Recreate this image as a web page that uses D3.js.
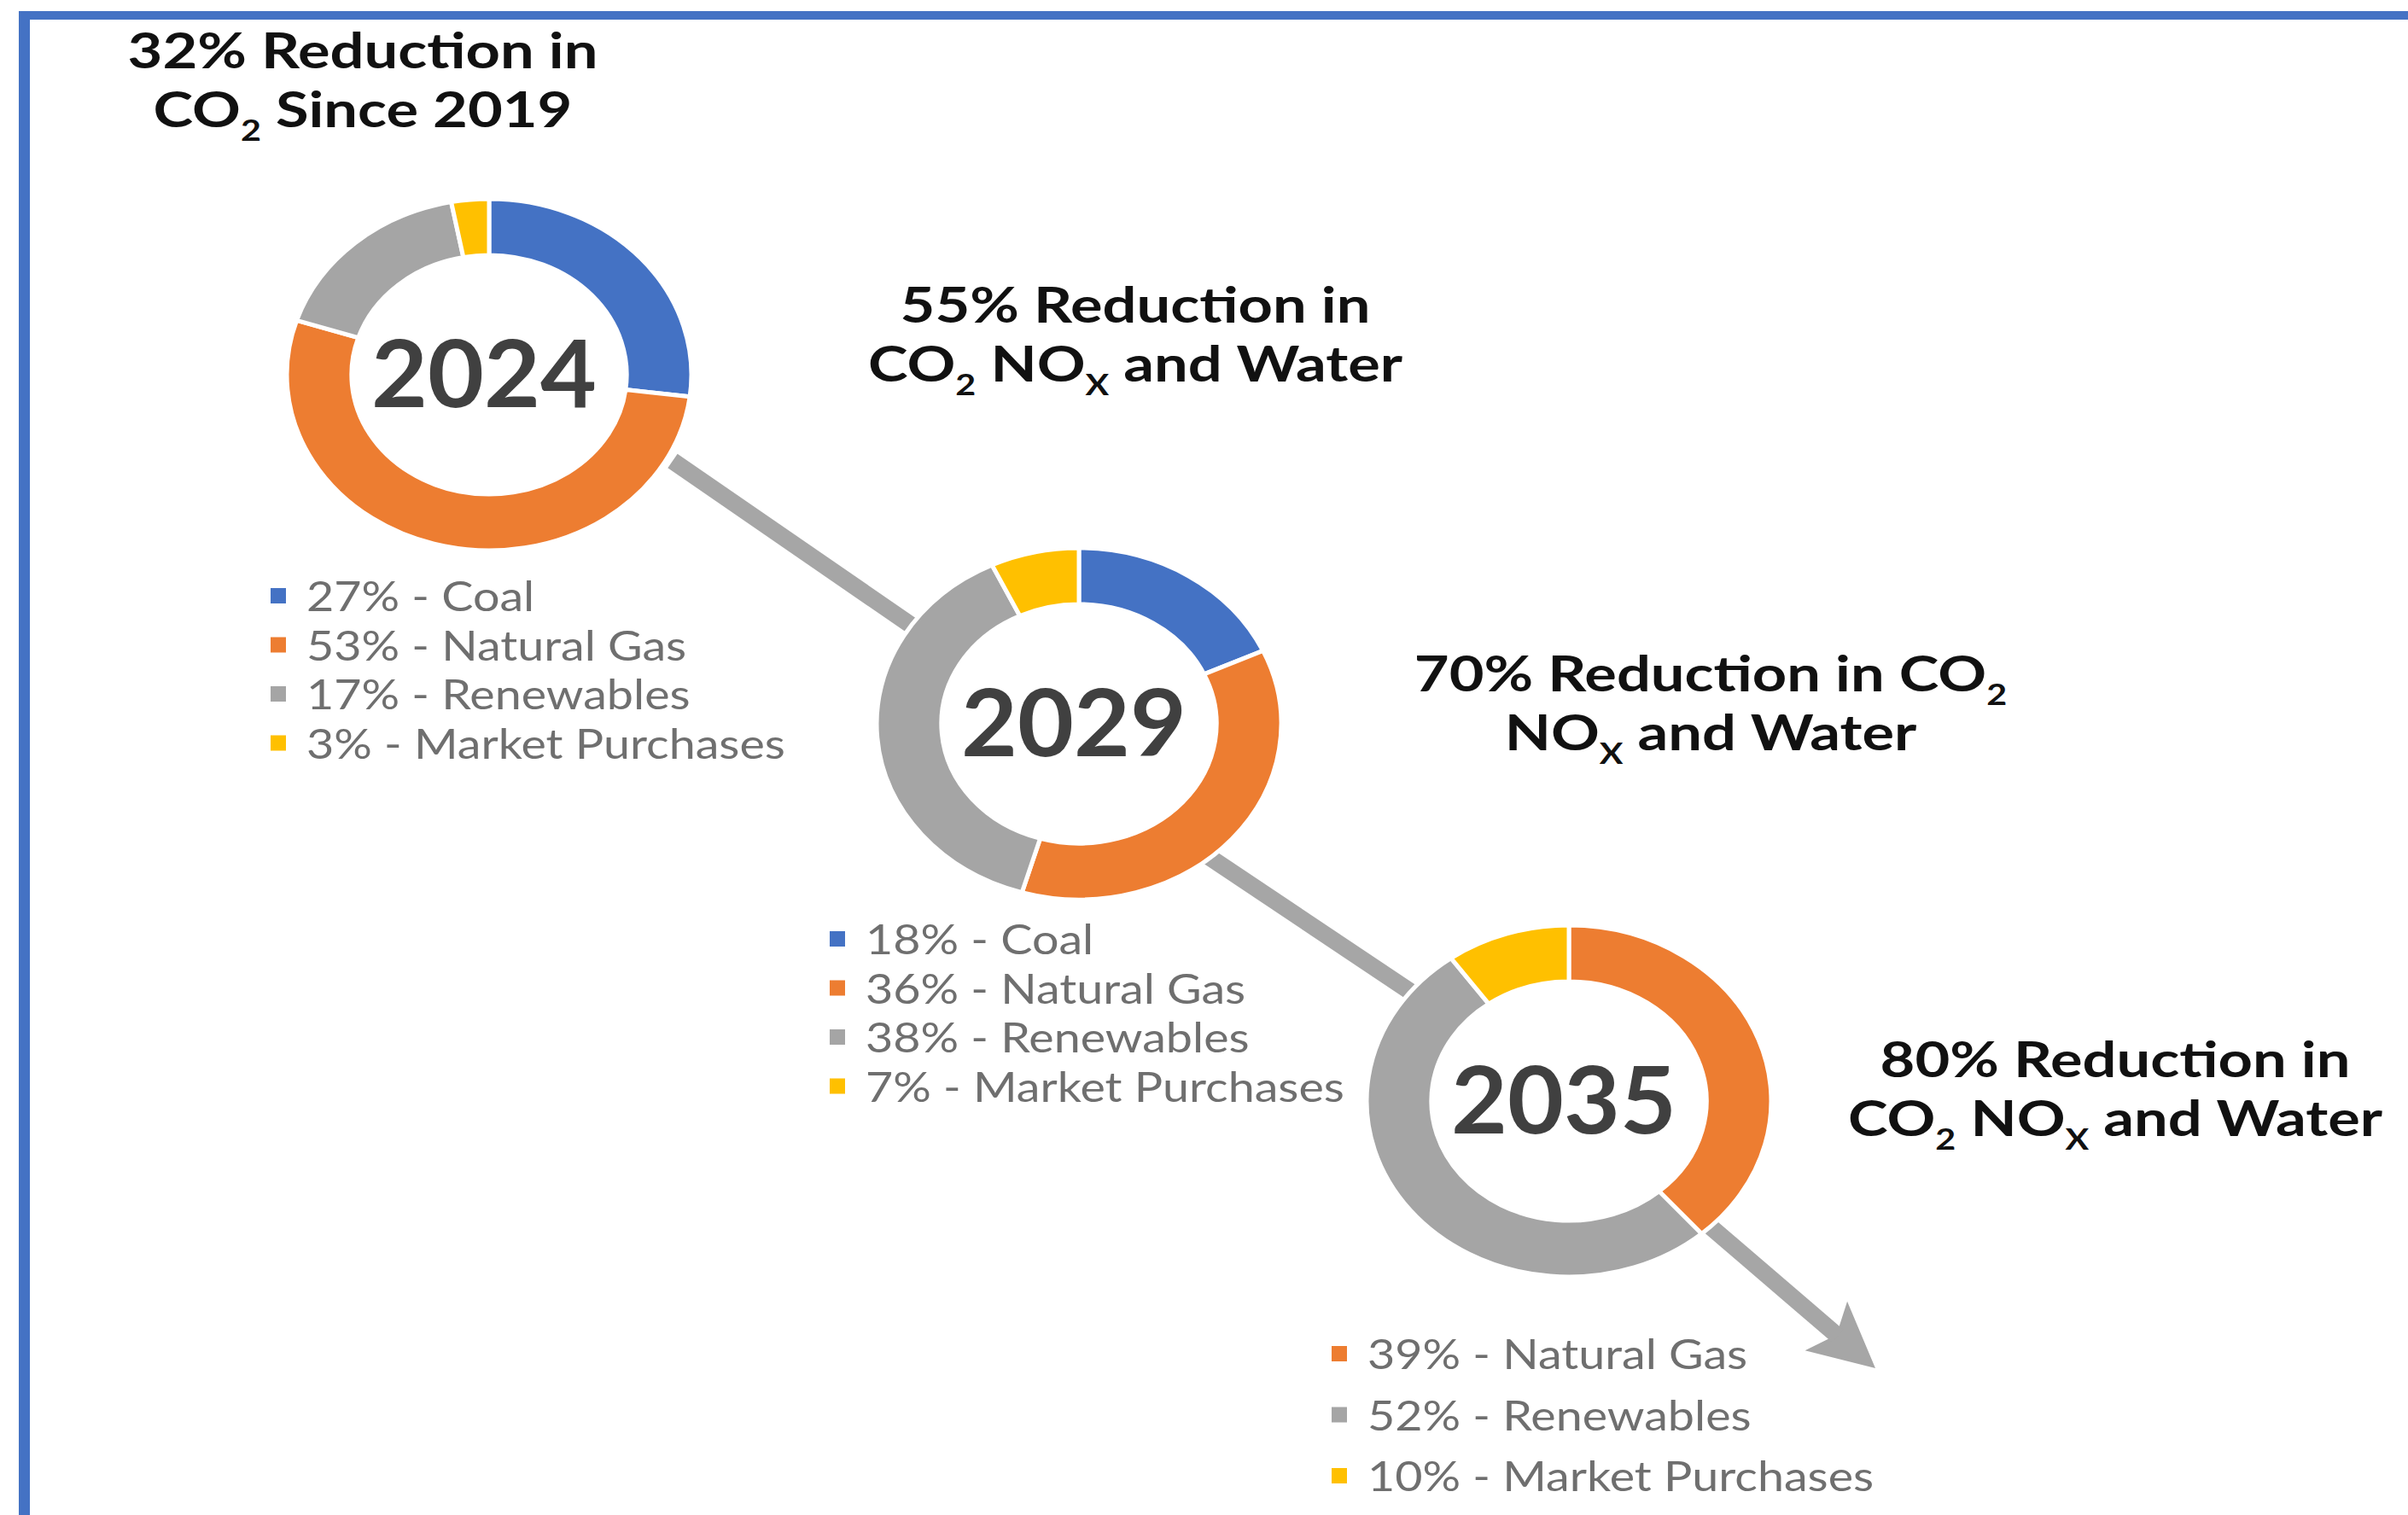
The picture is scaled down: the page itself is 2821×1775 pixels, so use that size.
<!DOCTYPE html>
<html>
<head>
<meta charset="utf-8">
<script src="https://cdn.jsdelivr.net/npm/d3@7"></script>
<style>
  html, body { margin: 0; padding: 0; background: #fff; }
  svg { display: block; }
  text { white-space: pre; }
</style>
</head>
<body>
<div id="chart"></div>
<script>
const width = 2821
const height = 1775

// data
const sources = ['Coal', 'Natural Gas', 'Renewables', 'Market Purchases']
const years = ['2024', '2029', '2035']
const shares2024 = [27, 53, 17, 3]
const shares2029 = [18, 36, 38, 7]
const shares2035 = [0, 39, 52, 10]
const headlines = [
  ['32% Reduction in', 'CO{2} Since 2019'],
  ['55% Reduction in', 'CO{2} NO{X} and Water'],
  ['70% Reduction in CO{2}', 'NO{X} and Water'],
  ['80% Reduction in', 'CO{2} NO{X} and Water']
]

const colors = ['#4472c4', '#ed7d31', '#a5a5a5', '#ffc000']
const font = 'Lato, "Open Sans", sans-serif'

// layout
const donuts = [
  { cx: 573, cy: 439, legX: 326, legY: 716, legStep: 57.5 },
  { cx: 1264, cy: 848, legX: 981, legY: 1118, legStep: 57.5 },
  { cx: 1838, cy: 1290, legX: 1569, legY: 1604, legStep: 71.5 }
]
const rx = 237
const ry = 206
const holeRatio = 0.68
const headSpots = [[425, 80], [1330, 378], [2004, 810], [2478, 1262]]
const lineGap = 69
const connector = [
  [[788, 540], [1264, 868]],
  [[1264, 902], [1838, 1286]],
  [[1838, 1295], [2197, 1603]]
]

const shareSets = [shares2024, shares2029, shares2035]

const colorScale = d3.scaleOrdinal().domain(sources).range(colors)

const svg = d3
  .select('#chart')
  .append('svg')
  .attr('width', width)
  .attr('height', height)

svg
  .append('rect')
  .attr('width', width)
  .attr('height', height)
  .attr('fill', '#fff')

// frame (only top and left edges show)
svg.append('rect').attr('x', 22).attr('y', 13).attr('width', 13).attr('height', height).attr('fill', '#4472c4')
svg.append('rect').attr('x', 22).attr('y', 13).attr('width', width).attr('height', 10).attr('fill', '#4472c4')

// puts "{x}" parts of a string into lowered small tspans
function richText(sel, str, subSize, shift) {
  const parts = str.split(/(\{[^}]+\})/).filter(p => p.length)
  let lowered = false
  parts.forEach(p => {
    const isSub = p[0] === '{'
    const t = sel.append('tspan').text(isSub ? p.slice(1, -1) : p)
    if (isSub) {
      t.attr('font-size', subSize).attr('dy', shift)
      lowered = true
    } else if (lowered) {
      t.attr('dy', -shift)
      lowered = false
    }
  })
}

// connector arrow, behind the rings
const lineColor = '#a6a6a6'
connector.forEach((seg, i) => {
  let [a, b] = seg
  if (i === connector.length - 1) {
    const dx = b[0] - a[0]
    const dy = b[1] - a[1]
    const len = Math.hypot(dx, dy)
    const ux = dx / len
    const uy = dy / len
    const nx = -uy
    const ny = ux
    const pt = (along, perp) => [b[0] + ux * along + nx * perp, b[1] + uy * along + ny * perp]
    svg
      .append('path')
      .attr('d', d3.line()([pt(0, 0), pt(-76, -38), pt(-60, 0), pt(-76, 38)]) + 'Z')
      .attr('fill', lineColor)
    b = pt(-58, 0)
  }
  svg
    .append('line')
    .attr('x1', a[0])
    .attr('y1', a[1])
    .attr('x2', b[0])
    .attr('y2', b[1])
    .attr('stroke', lineColor)
    .attr('stroke-width', 20)
})

const pie = d3
  .pie()
  .sort(null)
  .value(d => d.value)

const arc = d3
  .arc()
  .innerRadius(ry * holeRatio)
  .outerRadius(ry)

// donuts
donuts.forEach((spot, i) => {
  const rows = sources
    .map((name, j) => ({ name, value: shareSets[i][j] }))
    .filter(d => d.value > 0)

  const g = svg
    .append('g')
    .attr('transform', `translate(${spot.cx},${spot.cy}) scale(${rx / ry},1)`)

  g.append('circle')
    .attr('r', ry * holeRatio)
    .attr('fill', '#fff')

  g.selectAll('path')
    .data(pie(rows))
    .enter()
    .append('path')
    .attr('d', arc)
    .attr('fill', d => colorScale(d.data.name))
    .attr('stroke', '#fff')
    .attr('stroke-width', 5)
    .attr('vector-effect', 'non-scaling-stroke')

  svg
    .append('text')
    .attr('class', 'year')
    .attr('transform', `translate(${spot.cx - 6},${spot.cy + 38})`)
    .attr('text-anchor', 'middle')
    .attr('font-family', font)
    .attr('font-weight', 700)
    .attr('font-size', 110)
    .attr('fill', '#404040')
    .text(years[i])

  const leg = svg
    .append('g')
    .selectAll('g')
    .data(rows)
    .enter()
    .append('g')
    .attr('transform', (d, k) => `translate(0,${spot.legY + k * spot.legStep})`)

  leg
    .append('rect')
    .attr('x', spot.legX - 9)
    .attr('y', -27)
    .attr('width', 18)
    .attr('height', 18)
    .attr('fill', d => colorScale(d.name))

  leg
    .append('text')
    .attr('class', 'legend')
    .attr('data-x', spot.legX + 33)
    .attr('font-family', font)
    .attr('font-size', 48)
    .attr('fill', '#6f6f6f')
    .text(d => `${d.value}% - ${d.name}`)
})

// headlines
headlines.forEach((lines, i) => {
  lines.forEach((line, k) => {
    const t = svg
      .append('text')
      .attr('class', 'headline')
      .attr('data-x', headSpots[i][0])
      .attr('data-y', headSpots[i][1] + k * lineGap)
      .attr('text-anchor', 'middle')
      .attr('font-family', font)
      .attr('font-weight', 700)
      .attr('font-size', 58)
      .attr('fill', '#111')
    richText(t, line, 34, 16)
  })
})

// the picture is stretched sideways; fit widths to reference samples
function stretch(selector, sampleText, target) {
  let w = 0
  svg.selectAll(selector).each(function() {
    if (this.textContent === sampleText) w = this.getBBox().width
  })
  return w ? target / w : 1
}

const headSx = stretch('.headline', '32% Reduction in', 551)
svg.selectAll('.headline').attr('transform', function() {
  const el = d3.select(this)
  return `translate(${el.attr('data-x')},${el.attr('data-y')}) scale(${headSx},1)`
})

const yearSx = stretch('.year', '2024', 264)
svg.selectAll('.year').attr('transform', function() {
  return d3.select(this).attr('transform') + ` scale(${yearSx},1)`
})

const legSx = stretch('.legend', '3% - Market Purchases', 561)
svg.selectAll('.legend').attr('transform', function() {
  return `translate(${d3.select(this).attr('data-x')},0) scale(${legSx},1)`
})
</script>
</body>
</html>
